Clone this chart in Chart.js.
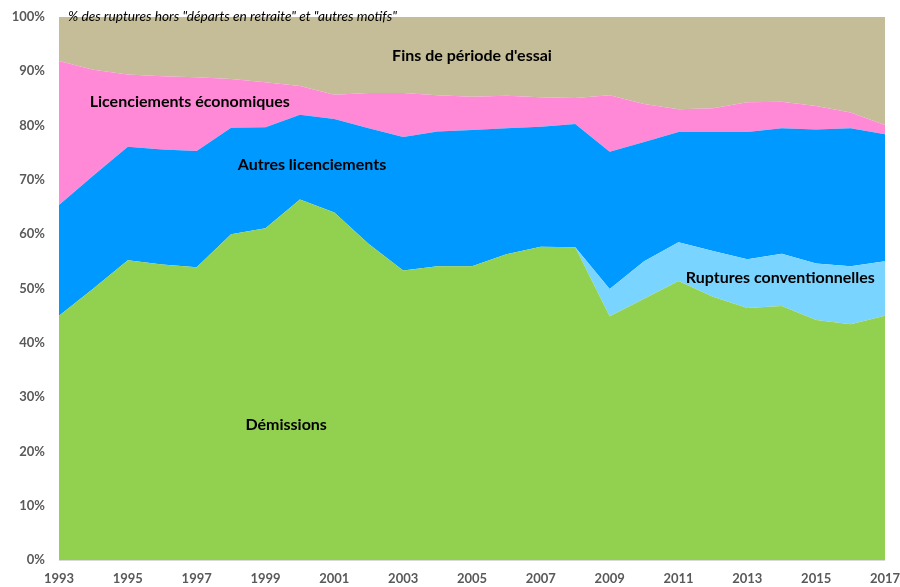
<!DOCTYPE html>
<html><head><meta charset="utf-8">
<script src="https://cdn.jsdelivr.net/npm/chart.js@4/dist/chart.umd.min.js"></script>
<style>html,body{margin:0;padding:0;background:#fff}#wrap{width:900px;height:587px}</style>
</head><body><div id="wrap"><canvas id="c" width="900" height="587"></canvas></div>
<script>
const years = [1993,1994,1995,1996,1997,1998,1999,2000,2001,2002,2003,2004,2005,2006,2007,2008,2009,2010,2011,2012,2013,2014,2015,2016,2017];
const demissions = [45.0,50.0,55.2,54.4,53.9,60.0,61.1,66.4,64.0,58.2,53.3,54.1,54.1,56.3,57.7,57.6,44.9,48.1,51.4,48.5,46.4,46.8,44.2,43.4,45.0];
const rupturesConv = [0,0,0,0,0,0,0,0,0,0,0,0,0,0,0,0,5.0,6.9,7.1,8.4,9.0,9.6,10.4,10.7,10.0];
const autresLic = [20.4,20.8,20.9,21.2,21.4,19.6,18.6,15.6,17.2,21.3,24.6,24.8,25.1,23.2,22.1,22.7,25.3,22.0,20.3,21.9,23.4,23.1,24.7,25.4,23.4];
const licEco = [26.5,19.5,13.3,13.5,13.6,9.0,8.3,5.3,4.5,6.5,8.1,6.7,6.1,6.0,5.4,4.8,10.4,7.0,4.2,4.4,5.5,4.9,4.3,2.9,1.7];
const finsEssai = [8.1,9.7,10.6,10.9,11.1,11.4,12.0,12.7,14.3,14.0,14.0,14.4,14.7,14.5,14.8,14.9,14.4,16.0,17.0,16.8,15.7,15.6,16.4,17.6,19.9];
const yTicks = [0,10,20,30,40,50,60,70,80,90,100];
const seriesNames = ["Démissions","Ruptures conventionnelles","Autres licenciements","Licenciements économiques","Fins de période d'essai"];
const subtitle = '% des ruptures hors "départs en retraite" et "autres motifs"';
const areaLabels = [
  {text: "Fins de période d'essai", x: 2005, y: 92.8},
  {text: "Licenciements économiques", x: 1996.8, y: 84.3},
  {text: "Autres licenciements", x: 2000.35, y: 72.7},
  {text: "Ruptures conventionnelles", x: 2013.96, y: 52.0},
  {text: "Démissions", x: 1999.6, y: 24.9}
];

const colors = ["#92D050","#79D4FF","#0099FF","#FF89D6","#C4BD97"];
const dataSets = [demissions, rupturesConv, autresLic, licEco, finsEssai];

const labelsPlugin = {
  id: 'areaLabels',
  afterDatasetsDraw(chart) {
    const ctx = chart.ctx, xs = chart.scales.x, ys = chart.scales.y;
    ctx.save();
    ctx.fillStyle = '#000';
    ctx.textAlign = 'center';
    ctx.textBaseline = 'middle';
    ctx.font = 'bold 16px Lato';
    areaLabels.forEach(l => {
      const px = xs.left + (l.x - years[0]) / (years[years.length-1] - years[0]) * (xs.right - xs.left);
      ctx.fillText(l.text, px, ys.getPixelForValue(l.y));
    });
    ctx.font = 'italic 13.7px Lato';
    ctx.textAlign = 'left';
    ctx.fillText(subtitle, chart.chartArea.left + 9, chart.chartArea.top);
    ctx.strokeStyle = '#D9D9D9';
    ctx.lineWidth = 1;
    ctx.beginPath();
    ctx.moveTo(chart.chartArea.left, chart.chartArea.bottom + 0.5);
    ctx.lineTo(chart.chartArea.right, chart.chartArea.bottom + 0.5);
    ctx.stroke();
    ctx.restore();
  }
};

new Chart(document.getElementById('c'), {
  type: 'line',
  data: {
    labels: years.map(String),
    datasets: dataSets.map((d, i) => ({
      label: seriesNames[i],
      data: d,
      backgroundColor: colors[i],
      borderColor: colors[i],
      borderWidth: 0,
      pointRadius: 0,
      tension: 0,
      fill: i === 0 ? 'origin' : '-1'
    }))
  },
  options: {
    responsive: false,
    animation: false,
    layout: {padding: {top: 17, right: 15, left: 0, bottom: 0}},
    plugins: {legend: {display: false}, tooltip: {enabled: false}},
    scales: {
      x: {
        offset: false,
        grid: {display: false, drawTicks: false},
        border: {display: false},
        ticks: {
          autoSkip: false, maxRotation: 0, padding: 11,
          color: '#595959', font: {family: 'Lato', weight: 'bold', size: 13},
          callback: (v, i) => (i % 2 === 0 ? years[i] : '')
        },
        afterFit: a => { a.height = 27; a.paddingLeft = 0; a.paddingRight = 0; }
      },
      y: {
        stacked: true, min: 0, max: 100,
        afterBuildTicks: a => { a.ticks = yTicks.map(v => ({value: v})); },
        grid: {display: false, drawTicks: false},
        border: {display: false},
        ticks: {
          padding: 14,
          color: '#595959', font: {family: 'Lato', weight: 'bold', size: 13},
          callback: v => v + '%'
        },
        afterFit: a => { a.width = 59; a.paddingTop = 0; a.paddingBottom = 0; }
      }
    }
  },
  plugins: [labelsPlugin]
});
</script></body></html>
